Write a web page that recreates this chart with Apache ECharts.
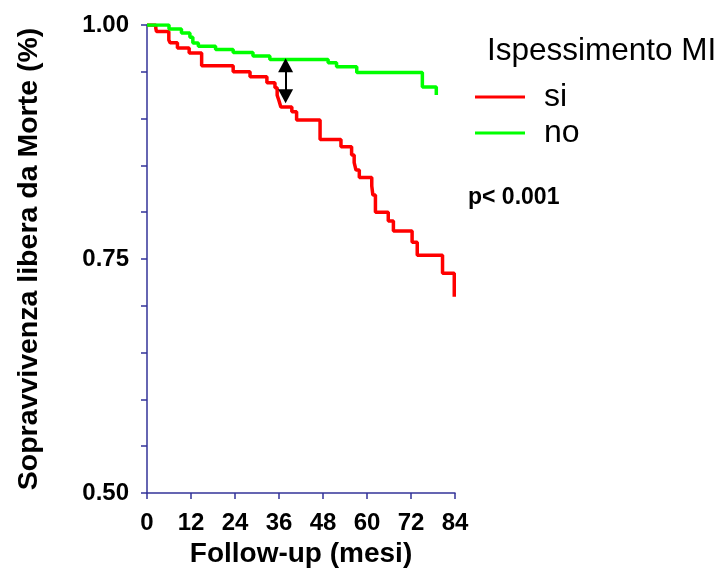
<!DOCTYPE html>
<html>
<head>
<meta charset="utf-8">
<style>
  html, body { margin: 0; padding: 0; background: #fff; }
  #chart { width: 722px; height: 569px; }
</style>
<script src="https://cdn.jsdelivr.net/npm/echarts@6/dist/echarts.min.js"></script>
</head>
<body>
<div id="chart"></div>
<script>
// Kaplan-Meier steps: [mesi, sopravvivenza]
const siSteps = [
  [0, 1.0], [2.4, 0.9965], [2.6, 0.993], [5.95, 0.984], [6.3, 0.981],
  [8.3, 0.9754], [11.5, 0.970], [14.9, 0.9565], [23.5, 0.950], [28.1, 0.9448],
  [32.7, 0.9384], [34.9, 0.933], [35.5, 0.925], [36.0, 0.919], [36.5, 0.9124],
  [39.5, 0.9074], [40.8, 0.8985], [47.2, 0.8777], [52.9, 0.870], [55.8, 0.861],
  [56.5, 0.853], [57.0, 0.845], [57.9, 0.837], [61.3, 0.828], [61.6, 0.8184],
  [62.3, 0.800], [65.8, 0.7906], [67.2, 0.780], [72.3, 0.7678], [73.7, 0.754],
  [80.6, 0.7347], [83.8, 0.7097]
];
const noSteps = [
  [0, 1.0], [6.0, 0.9957], [9.4, 0.9915], [11.7, 0.9869], [12.5, 0.9808],
  [14.0, 0.9772], [18.7, 0.9738], [23.5, 0.9706], [28.9, 0.9669], [33.5, 0.9631],
  [49.4, 0.9597], [51.7, 0.9554], [57.2, 0.9492], [75.1, 0.9338], [78.9, 0.9252]
];
const xTicks = [0, 12, 24, 36, 48, 60, 72, 84];
const yLabelled = [0.5, 0.75, 1.0];
const arrowGap = [[37.8, 0.957], [37.8, 0.9238]];

const axisColor = "#333399";
const font = "Liberation Sans";
const chart = echarts.init(document.getElementById("chart"), null, { renderer: "canvas" });

chart.setOption({
  animation: false,
  title: [
    {
      text: "Ispessimento MI",
      left: 487,
      top: 35,
      padding: 0,
      textStyle: { fontFamily: font, fontSize: 31.5, fontWeight: "normal", color: "#000" },
    },
    {
      text: "p< 0.001",
      left: 468,
      top: 186,
      padding: 0,
      textStyle: { fontFamily: font, fontSize: 23, fontWeight: "bold", color: "#000" },
    },
  ],
  legend: {
    data: ["si", "no"],
    orient: "vertical",
    left: 475,
    top: 81,
    padding: 0,
    icon: "rect",
    itemWidth: 50,
    itemHeight: 3,
    itemGap: 4,
    selectedMode: false,
    textStyle: { fontFamily: font, fontSize: 32, color: "#000", padding: [0, 0, 0, 14] },
  },
  grid: { left: 147, top: 25, width: 308, height: 468, outerBoundsMode: "none" },
  xAxis: {
    type: "value",
    min: 0,
    max: 84,
    interval: 12,
    name: "Follow-up (mesi)",
    nameLocation: "middle",
    nameGap: 46,
    nameTextStyle: { fontFamily: font, fontSize: 28, fontWeight: "bold", color: "#000" },
    axisLine: { lineStyle: { color: axisColor, width: 1.5 } },
    axisTick: { length: 6, lineStyle: { color: axisColor, width: 1.5 } },
    axisLabel: {
      margin: 18,
      fontFamily: font,
      fontSize: 24,
      fontWeight: "bold",
      color: "#000",
      formatter: (v) => (xTicks.includes(v) ? String(v) : ""),
    },
    splitLine: { show: false },
  },
  yAxis: {
    type: "value",
    min: 0.5,
    max: 1.0,
    interval: 0.05,
    name: "Sopravvivenza libera da Morte (%)",
    nameLocation: "middle",
    nameGap: 103,
    nameTextStyle: { fontFamily: font, fontSize: 28.5, fontWeight: "bold", color: "#000" },
    axisLine: { show: true, lineStyle: { color: axisColor, width: 1.5 } },
    axisTick: { show: true, length: 6, lineStyle: { color: axisColor, width: 1.5 } },
    axisLabel: {
      margin: 18,
      fontFamily: font,
      fontSize: 24,
      fontWeight: "bold",
      color: "#000",
      formatter: (v) => {
        const hit = yLabelled.find((t) => Math.abs(t - v) < 1e-6);
        return hit === undefined ? "" : hit.toFixed(2);
      },
    },
    splitLine: { show: false },
  },
  series: [
    {
      name: "si",
      type: "line",
      step: "end",
      data: siSteps,
      symbol: "none",
      lineStyle: { color: "#ff0000", width: 3.5 },
      itemStyle: { color: "#ff0000" },
      emphasis: { disabled: true },
      z: 2,
    },
    {
      name: "no",
      type: "line",
      step: "end",
      data: noSteps,
      symbol: "none",
      lineStyle: { color: "#00ff00", width: 3.5 },
      itemStyle: { color: "#00ff00" },
      emphasis: { disabled: true },
      z: 3,
      markLine: {
        silent: true,
        symbol: ["triangle", "triangle"],
        symbolSize: [15, 14],
        label: { show: false },
        lineStyle: { color: "#000", width: 2, type: "solid" },
        data: [[{ coord: arrowGap[0] }, { coord: arrowGap[1] }]],
      },
    },
  ],
});
</script>
</body>
</html>
